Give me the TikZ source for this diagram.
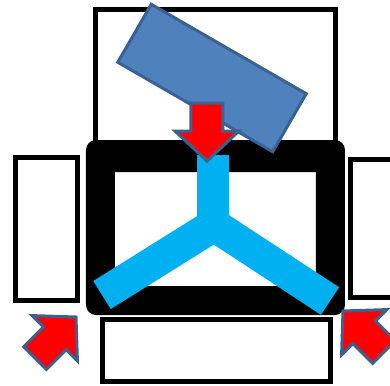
\documentclass[tikz,border=0pt]{standalone}
\usetikzlibrary{calc}
\definecolor{lidblue}{HTML}{4F81BD}
\definecolor{edgeblue}{HTML}{3B6190}
\definecolor{legcyan}{HTML}{00B0F0}

\tikzset{
  pics/pusharrow/.style={code={
    \draw[push] (0,0) -- (-30,-32) -- (-30,-16) -- (-58,-16) -- (-58,16)
      -- (-30,16) -- (-30,32) -- cycle;
  }},
}

\begin{document}
\begin{tikzpicture}[
  x=0.02cm, y=-0.02cm,
  box/.style={draw=black, line width=0.1cm, fill=white},
  frame/.style={fill=black, even odd rule},
  lid/.style={draw=edgeblue, fill=lidblue, line width=0.06cm,
              minimum width=3.58cm, minimum height=1.34cm, inner sep=0pt},
  leg/.style={draw=legcyan, line width=0.66cm, line join=miter},
  push/.style={draw=edgeblue, fill=red, line width=0.06cm, line join=miter},
]
\useasboundingbox (0,0) rectangle (390,386);

% === Side boxes ===
\draw[box] (95.5,9) rectangle (335.5,150);
\draw[box] (15.5,157.5) rectangle (77.5,300.5);
\draw[box] (350.5,159) rectangle (400,297);
\draw[box] (102.5,319.5) rectangle (330.5,381);

% === Frame ===
\fill[frame] [rounded corners=0.2cm] (86,140) rectangle (345,315)
  [sharp corners] (115,172) rectangle (316,286);

% === Tilted block ===
\node[lid, rotate=-30] (lid) at (212,78) {};

% === Y legs ===
\draw[leg] (213,155) -- (213,228);
\draw[leg] (102,295) -- (214,225) -- (330,301);

% === Arrows ===
\pic[rotate=-90] at (207,161) {pusharrow};
\pic[rotate=45] at (76,317) {pusharrow};
\pic[rotate=135] at (343,311) {pusharrow};

\end{tikzpicture}
\end{document}
